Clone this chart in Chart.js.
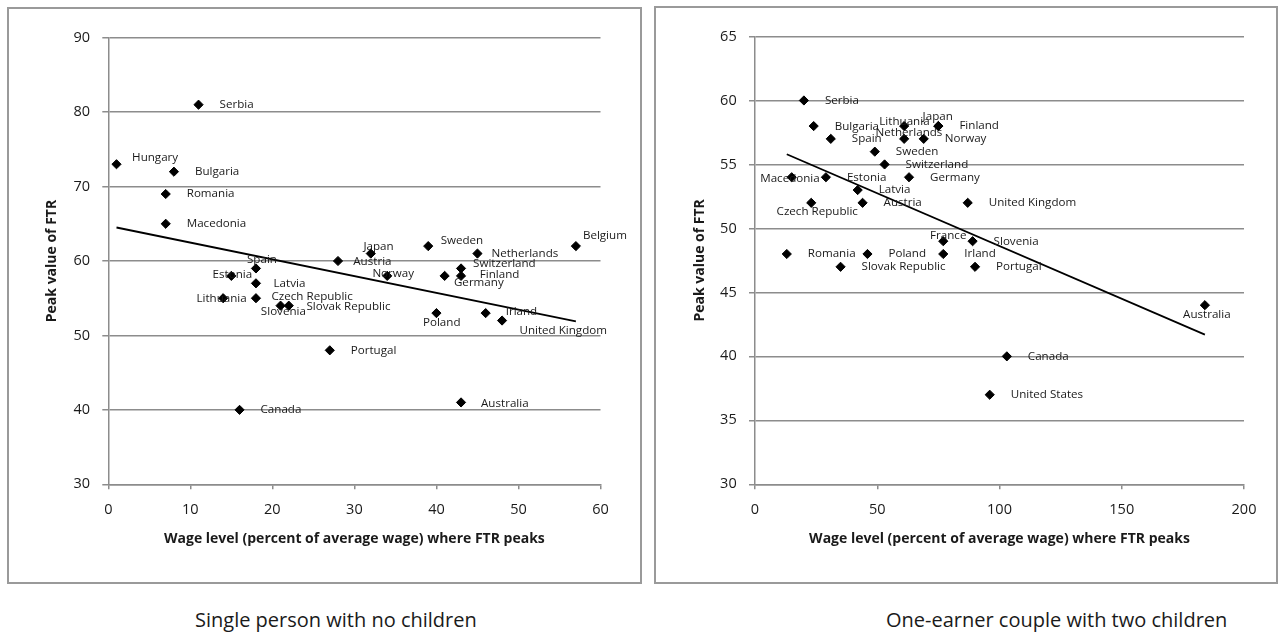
<!DOCTYPE html>
<html>
<head>
<meta charset="utf-8">
<script src="https://cdn.jsdelivr.net/npm/chart.js@4/dist/chart.umd.min.js"></script>
<style>
  html, body { margin: 0; padding: 0; background: #fff; }
  body { width: 1284px; height: 632px; position: relative; overflow: hidden; font-family: "Open Sans", Lato, sans-serif; }
  .box { position: absolute; border: 2px solid #9a9a9a; box-sizing: border-box; }
  .box canvas { position: absolute; left: 0; top: 0; }
  .caption { position: absolute; font-family: "Open Sans", Lato, sans-serif; font-size: 20px; line-height: 27px; color: #1a1a1a; white-space: nowrap; }
</style>
</head>
<body>
<div class="box" id="boxL" style="left:7px; top:7px; width:635px; height:577px;"><canvas id="chartL"></canvas></div>
<div class="box" id="boxR" style="left:654px; top:6px; width:624px; height:578px;"><canvas id="chartR"></canvas></div>
<div class="caption" style="left:195px; top:606px;">Single person with no children</div>
<div class="caption" style="left:886px; top:606px;">One-earner couple with two children</div>
<script>
// ---------- Data: Single person with no children ----------
const leftCountries = ["Hungary","Serbia","Bulgaria","Romania","Macedonia","Spain","Estonia","Latvia","Lithuania","Czech Republic","Slovenia","Slovak Republic","Austria","Japan","Norway","Portugal","Sweden","Netherlands","Switzerland","Finland","Germany","Belgium","Poland","Irland","United Kingdom","Canada","Australia"];
const leftWage = [1,11,8,7,7,18,15,18,14,18,21,22,28,32,34,27,39,45,43,43,41,57,40,46,48,16,43];
const leftFTR  = [73,81,72,69,65,59,58,57,55,55,54,54,60,61,58,48,62,61,59,58,58,62,53,53,52,40,41];
const leftTrendX = [1,57];
const leftTrendY = [64.5,51.9];
const leftXTicks = [0,10,20,30,40,50,60];
const leftYTicks = [30,40,50,60,70,80,90];

// ---------- Data: One-earner couple with two children ----------
const rightCountries = ["Serbia","Bulgaria","Spain","Lithuania","Japan","Finland","Netherlands","Norway","Sweden","Switzerland","Macedonia","Estonia","Germany","Latvia","Czech Republic","Austria","United Kingdom","France","Slovenia","Romania","Poland","Irland","Slovak Republic","Portugal","Canada","United States","Australia"];
const rightWage = [20,24,31,61,75,75,61,69,49,53,15,29,63,42,23,44,87,77,89,13,46,77,35,90,103,96,184];
const rightFTR  = [60,58,57,58,58,58,57,57,56,55,54,54,54,53,52,52,52,49,49,48,48,48,47,47,40,37,44];
const rightTrendX = [13,184];
const rightTrendY = [55.8,41.7];
const rightXTicks = [0,50,100,150,200];
const rightYTicks = [30,35,40,45,50,55,60,65];

const xTitle = "Wage level (percent of average wage) where FTR peaks";
const yTitle = "Peak value of FTR";

// ---------- Label placement (dx, dy, align) ----------
const DEFAULT_PLACE = [21, 0, 'left'];
const leftPlace = {
  "Hungary": [15.6, -7, 'left'],
  "Spain": [6, -9, 'center'],
  "Estonia": [1, -1, 'center'],
  "Latvia": [17.6, 0, 'left'],
  "Lithuania": [-1.6, 0, 'center'],
  "Czech Republic": [15.6, -2, 'left'],
  "Slovenia": [2.8, 6, 'center'],
  "Slovak Republic": [17.7, 1, 'left'],
  "Austria": [15.3, 0.7, 'left'],
  "Japan": [7.7, -6.6, 'center'],
  "Norway": [6, -2.4, 'center'],
  "Sweden": [12.4, -5.7, 'left'],
  "Netherlands": [14, 0, 'left'],
  "Switzerland": [12, -5, 'left'],
  "Finland": [18.7, -1.4, 'left'],
  "Germany": [9.3, 7, 'left'],
  "Belgium": [7, -10.7, 'left'],
  "Poland": [5.3, 10, 'center'],
  "Irland": [20, -1, 'left'],
  "United Kingdom": [17.4, 10, 'left'],
  "Australia": [20, 1, 'left']
};
const rightPlace = {
  "Bulgaria": [21, 1, 'left'],
  "Lithuania": [0.3, -4, 'center'],
  "Japan": [-0.7, -9, 'center'],
  "Netherlands": [4.8, -5.7, 'center'],
  "Macedonia": [-1.7, 1, 'center'],
  "Czech Republic": [6, 9, 'center'],
  "France": [5, -6, 'center'],
  "Australia": [2, 9.3, 'center']
};

const FONT = "'Open Sans', Lato, sans-serif";
const TEXT = '#1a1a1a';
const GRID = '#8c8c8c';

const labelPlugin = {
  id: 'pointLabels',
  afterDatasetsDraw(chart, args, opts) {
    const { ctx, scales: { x, y } } = chart;
    ctx.save();
    ctx.font = '11.6px ' + FONT;
    ctx.fillStyle = TEXT;
    ctx.textBaseline = 'middle';
    opts.names.forEach((name, i) => {
      const p = opts.place[name] || DEFAULT_PLACE;
      const px = x.getPixelForValue(opts.xs[i]);
      const py = y.getPixelForValue(opts.ys[i]);
      ctx.textAlign = p[2];
      ctx.fillText(name, px + p[0], py + p[1]);
    });
    ctx.restore();
  }
};

function makeChart(id, w, h, cfg) {
  const canvas = document.getElementById(id);
  canvas.width = w; canvas.height = h;
  canvas.style.width = w + 'px'; canvas.style.height = h + 'px';
  const pts = cfg.xs.map((v, i) => ({ x: v, y: cfg.ys[i] }));
  const trend = cfg.tx.map((v, i) => ({ x: v, y: cfg.ty[i] }));
  return new Chart(canvas, {
    type: 'scatter',
    data: {
      datasets: [
        { data: pts, pointStyle: 'rectRot', pointRadius: 4.6, pointBackgroundColor: '#000', pointBorderColor: '#000', pointBorderWidth: 1, showLine: false },
        { data: trend, type: 'line', showLine: true, borderColor: '#000', borderWidth: 1.8, pointRadius: 0, fill: false }
      ]
    },
    options: {
      responsive: false,
      animation: false,
      devicePixelRatio: 1,
      layout: { padding: { left: 0, right: cfg.padRight, top: cfg.padTop, bottom: 0 } },
      plugins: {
        legend: { display: false },
        tooltip: { enabled: false },
        pointLabels: { names: cfg.names, xs: cfg.xs, ys: cfg.ys, place: cfg.place }
      },
      scales: {
        x: {
          type: 'linear', position: 'bottom',
          min: cfg.xTicks[0], max: cfg.xTicks[cfg.xTicks.length - 1],
          afterBuildTicks: s => { s.ticks = cfg.xTicks.map(v => ({ value: v })); },
          afterFit: s => { s.height = cfg.xH; },
          ticks: { color: TEXT, font: { family: FONT, size: 14.5 }, padding: 11.5, maxRotation: 0 },
          grid: { drawOnChartArea: false, drawTicks: true, tickLength: 5, color: GRID, lineWidth: 1.5 },
          border: { display: true, color: GRID, width: 1.5 },
          title: { display: true, text: xTitle, color: TEXT, font: { family: FONT, size: 14, weight: 'bold' }, padding: { top: 0, bottom: cfg.xTitlePad } }
        },
        y: {
          type: 'linear', position: 'left',
          min: cfg.yTicks[0], max: cfg.yTicks[cfg.yTicks.length - 1],
          afterBuildTicks: s => { s.ticks = cfg.yTicks.map(v => ({ value: v })); },
          afterFit: s => { s.width = cfg.yW; },
          ticks: { color: TEXT, font: { family: FONT, size: 14.5 }, padding: 12.3 },
          grid: { drawOnChartArea: true, drawTicks: true, tickLength: 6, color: GRID, lineWidth: 1.5 },
          border: { display: true, color: GRID, width: 1.5 },
          title: { display: true, text: yTitle, color: TEXT, font: { family: FONT, size: 14, weight: 'bold' }, padding: { top: cfg.yTitlePad, bottom: 0 } }
        }
      }
    },
    plugins: [labelPlugin]
  });
}

makeChart('chartL', 631, 573, {
  names: leftCountries, xs: leftWage, ys: leftFTR, tx: leftTrendX, ty: leftTrendY,
  xTicks: leftXTicks, yTicks: leftYTicks, place: leftPlace,
  padRight: 39.5, padTop: 28.7, xH: 97.7, yW: 99.3, xTitlePad: 34.3, yTitlePad: 34.6
});
makeChart('chartR', 620, 574, {
  names: rightCountries, xs: rightWage, ys: rightFTR, tx: rightTrendX, ty: rightTrendY,
  xTicks: rightXTicks, yTicks: rightYTicks, place: rightPlace,
  padRight: 32, padTop: 28.5, xH: 97.7, yW: 99, xTitlePad: 34.6, yTitlePad: 35.6
});
</script>
</body>
</html>
